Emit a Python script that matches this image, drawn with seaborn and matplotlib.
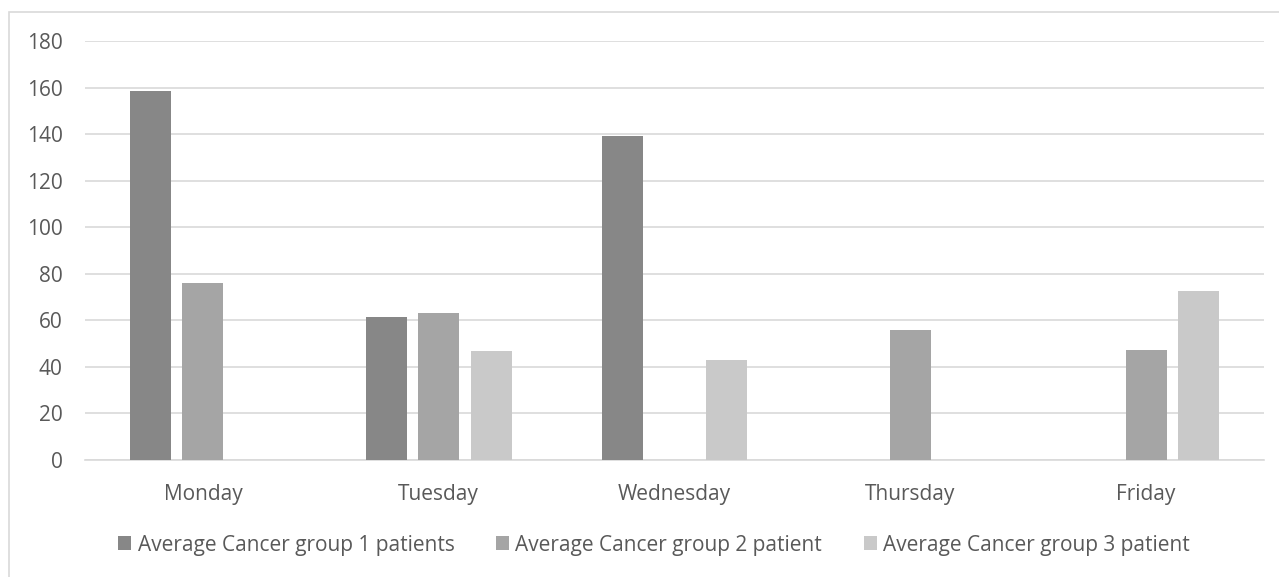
import matplotlib
matplotlib.use("Agg")
import matplotlib.pyplot as plt
from matplotlib.patches import Rectangle, Patch
import pandas as pd
import seaborn as sns

days = ["Monday", "Tuesday", "Wednesday", "Thursday", "Friday"]
series_names = [
    "Average Cancer group 1 patients",
    "Average Cancer group 2 patient",
    "Average Cancer group 3 patient",
]
group1 = [158.5, 61.3, 139.3, 0, 0]
group2 = [76.0, 63.0, 0, 55.8, 47.3]
group3 = [0, 47.0, 43.0, 0, 72.7]
y_ticks = [0, 20, 40, 60, 80, 100, 120, 140, 160, 180]

colors = ["#878787", "#a5a5a5", "#c9c9c9"]
text_color = "#595959"
grid_color = "#d9d9d9"

rows = []
for name, vals in zip(series_names, [group1, group2, group3]):
    for d, v in zip(days, vals):
        rows.append({"day": d, "series": name, "value": v})
df = pd.DataFrame(rows)

sns.set_theme(style="white")
plt.rcParams["font.family"] = ["Open Sans", "DejaVu Sans"]

W, H = 1279, 577
fs = 15
fig = plt.figure(figsize=(W / 100, H / 100), dpi=100)
ax = fig.add_axes([85 / W, 1 - 460 / H, (1264 - 85) / W, (460 - 41) / H])

sns.barplot(
    data=df, x="day", y="value", hue="series",
    order=days, hue_order=series_names, palette=colors,
    width=0.666, gap=0.216, linewidth=0, saturation=1,
    errorbar=None, ax=ax, zorder=3,
)

ax.set_ylim(0, 180)
ax.set_yticks(y_ticks)
ax.set_xlim(-0.5, len(days) - 0.5)
ax.set_xlabel("")
ax.set_ylabel("")
ax.yaxis.grid(True, color=grid_color, linewidth=1.2)
ax.set_axisbelow(True)
for side in ["left", "right", "top"]:
    ax.spines[side].set_visible(False)
ax.spines["bottom"].set_color(grid_color)
ax.spines["bottom"].set_linewidth(1.2)
ax.tick_params(axis="both", length=0, colors=text_color, labelsize=fs)
ax.tick_params(axis="y", pad=16)
ax.tick_params(axis="x", pad=17)

if ax.get_legend() is not None:
    ax.get_legend().remove()

handles = [Patch(facecolor=c, edgecolor="none") for c in colors]
fig.legend(
    handles, series_names, loc="center",
    bbox_to_anchor=(654 / W, 1 - 545 / H), ncol=3, frameon=False,
    fontsize=fs, labelcolor=text_color, handlelength=0.62,
    handleheight=0.62, handletextpad=0.3, columnspacing=2.0,
)

# chart area border
fig.patches.append(Rectangle((9 / W, -0.01), 1.1, 1 - 12 / H + 0.01,
                             transform=fig.transFigure, fill=False,
                             edgecolor="#d9d9d9", linewidth=1.2))

fig.savefig("out.png", dpi=100, facecolor="white")
